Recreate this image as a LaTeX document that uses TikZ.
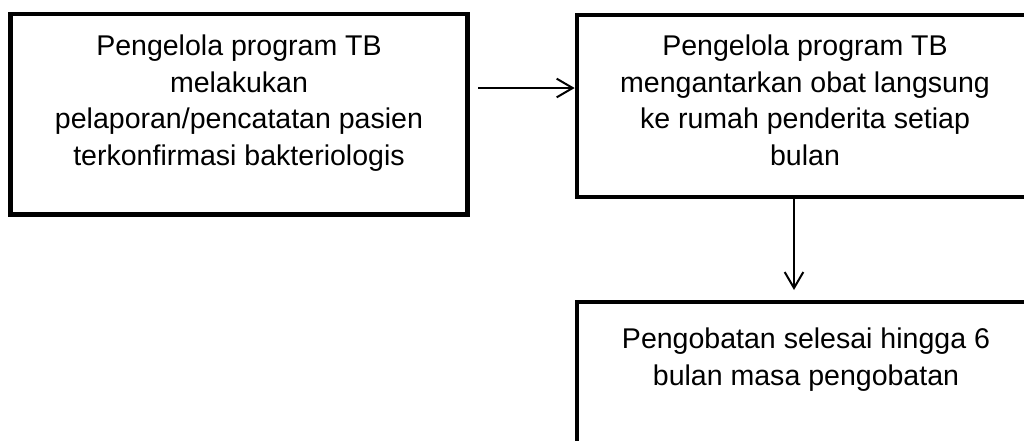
\documentclass[tikz,border=0pt]{standalone}
\usepackage{fontspec}
\setmainfont{Liberation Sans}
\usetikzlibrary{arrows.meta}

\begin{document}
\begin{tikzpicture}[x=0.75pt,y=0.75pt,yscale=-1,xscale=1,
    kotak/.style={draw,rectangle,line width=3.5pt,inner sep=0pt},
    teks/.style={anchor=north,inner sep=0pt,align=center,font=\fontsize{21.4}{27.5}\selectfont},
    panah/.style={line width=1.5pt,-{Straight Barb[length=12pt,width=14pt]}}]
        \useasboundingbox (0,0) rectangle (1024,440);
        \clip (0,0) rectangle (1024,440);

        % Kotak
        \node[kotak,minimum width=342.75pt,minimum height=150.4pt] (b1) at (239,114.25) {};
        \node[kotak,minimum width=342pt,minimum height=136.5pt] (b2) at (805,106) {};
        \node[kotak,minimum width=342pt,minimum height=136.5pt] (b3) at (805,393) {};

        % Teks
        \node[teks] (t1) at (239,34.6) {Pengelola program TB\\melakukan\\pelaporan/pencatatan pasien\\terkonfirmasi bakteriologis};
        \node[teks] (t2) at (805,34.6) {Pengelola program TB\\mengantarkan obat langsung\\ke rumah penderita setiap\\bulan};
        \node[teks] (t3) at (806,327.6) {Pengobatan selesai hingga 6\\bulan masa pengobatan};

        % Panah
        \coordinate (p1) at (478,88);
        \draw[panah] (p1) -- (p1 -| b2.west);
        \coordinate (p2) at (794,290);
        \draw[panah] (b2.south -| p2) -- (p2);

\end{tikzpicture}
\end{document}
